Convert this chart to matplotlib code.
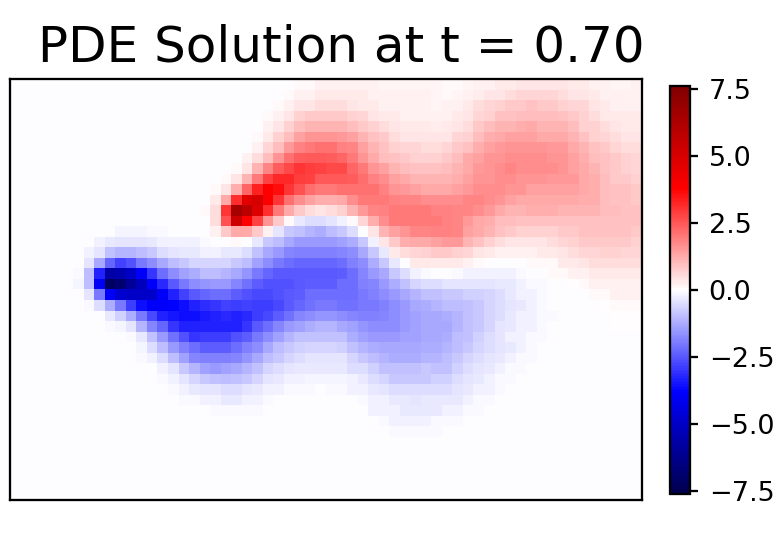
import numpy as np
import matplotlib
matplotlib.use("Agg")
import matplotlib.pyplot as plt

TITLE = "PDE Solution at t = 0.70"
CBAR_TICKS = [-7.5, -5.0, -2.5, 0.0, 2.5, 5.0, 7.5]
VLIM = 7.62
BACKGROUND = -0.03

# Field values, in tenths; left half (columns 0-29)
FIELD_LEFT = [
 [0,0,0,0,0, 0,0,0,0,0, 0,0,0,0,0, 0,0,0,0,0, 0,0,0,0,0, 0,0,1,1,2],
 [0,0,0,0,0, 0,0,0,0,0, 0,0,0,0,0, 0,0,0,0,0, 0,0,0,0,0, 0,1,2,2,3],
 [0,0,0,0,0, 0,0,0,0,0, 0,0,0,0,0, 0,0,0,0,0, 0,0,0,0,0, 1,2,4,4,5],
 [0,0,0,0,0, 0,0,0,0,0, 0,0,0,0,0, 0,0,0,0,0, 0,0,0,0,1, 2,4,7,8,8],
 [0,0,0,0,0, 0,0,0,0,0, 0,0,0,0,0, 0,0,0,0,0, 0,0,0,0,2, 4,7,10,11,11],
 [0,0,0,0,0, 0,0,0,0,0, 0,0,0,0,0, 0,0,0,0,0, 0,0,0,1,3, 7,10,14,16,16],
 [0,0,0,0,0, 0,0,0,0,0, 0,0,0,0,0, 0,0,0,0,0, 0,0,0,2,6, 10,15,19,20,21],
 [0,0,0,0,0, 0,0,0,0,0, 0,0,0,0,0, 0,0,0,0,0, 0,0,2,5,10, 16,21,24,25,25],
 [0,0,0,0,0, 0,0,0,0,0, 0,0,0,0,0, 0,0,0,0,0, 0,1,4,11,18, 24,27,30,29,28],
 [0,0,0,0,0, 0,0,0,0,0, 0,0,0,0,0, 0,0,0,0,0, 1,4,11,20,28, 32,32,29,28,25],
 [0,0,0,0,0, 0,0,0,0,0, 0,0,0,0,0, 0,0,0,0,1, 4,12,23,33,38, 36,30,26,22,20],
 [0,0,0,0,0, 0,0,0,0,0, 0,0,0,0,0, 0,0,0,0,3, 13,31,47,50,39, 30,21,17,14,12],
 [0,0,0,0,0, 0,0,0,0,0, 0,0,0,0,0, 0,0,0,1,5, 30,64,58,48,31, 20,13,8,5,4],
 [0,0,0,0,0, 0,0,0,0,0, 0,0,0,0,0, 0,0,0,0,5, 26,53,38,28,16, 8,1,-3,-5,-5],
 [0,0,0,0,0, 0,0,0,0,-0.5, -1.5,-1.5,-1.5,-1,-1, -0.5,0,0,0,2, 8,13,13,8,2, -4,-8,-9,-11,-12],
 [0,0,0,0,0, 0,0,-0.5,-2,-3, -4,-4,-4,-3,-2, -2,-2,-2,-1,-0.5, 0,1,0,-3,-8, -10,-13,-15,-15,-15],
 [0,0,0,0,0, 0,0,-2,-4,-9, -11,-11,-10,-8,-5, -4,-3,-3,-2,-2, -3,-3,-5,-9,-13, -15,-18,-19,-19,-19],
 [0,0,0,0,0, 0,-0.5,-4,-13,-23, -28,-26,-20,-17,-13, -10,-8,-6,-6,-6, -6,-8,-10,-14,-17, -20,-22,-23,-23,-23],
 [0,0,0,0,0, 0,-1,-10,-33,-57, -55,-50,-39,-30,-22, -17,-14,-12,-10,-10, -11,-13,-16,-20,-23, -25,-25,-25,-25,-25],
 [0,0,0,0,0, 0,-1.5,-10,-40,-72, -68,-60,-52,-39,-32, -25,-20,-17,-16,-15, -15,-18,-21,-24,-26, -26,-26,-25,-24,-24],
 [0,0,0,0,0, 0,-0.5,-4,-20,-39, -48,-50,-50,-49,-39, -33,-28,-25,-23,-22, -22,-24,-26,-27,-27, -26,-25,-24,-22,-22],
 [0,0,0,0,0, 0,0,-1,-5,-12, -20,-29,-36,-39,-39, -38,-36,-33,-31,-30, -28,-29,-28,-29,-29, -27,-25,-23,-21,-20],
 [0,0,0,0,0, 0,0,0,-0.5,-3, -7,-12,-20,-27,-33, -35,-36,-36,-34,-33, -32,-33,-32,-29,-27, -24,-21,-18,-17,-16],
 [0,0,0,0,0, 0,0,0,0,-1, -1.5,-4,-11,-18,-23, -30,-33,-33,-33,-33, -33,-33,-30,-25,-22, -18,-15,-14,-12,-11],
 [0,0,0,0,0, 0,0,0,0,0, -0.5,-1,-3,-9,-15, -21,-26,-30,-29,-29, -29,-26,-24,-20,-17, -14,-11,-9,-9,-9],
 [0,0,0,0,0, 0,0,0,0,0, 0,-0.5,-1.5,-5,-10, -15,-19,-22,-24,-24, -24,-22,-19,-17,-13, -10,-8,-7,-6,-6],
 [0,0,0,0,0, 0,0,0,0,0, 0,0,-1,-2,-5, -10,-14,-18,-19,-19, -19,-18,-16,-13,-10, -8,-6,-5,-4,-4],
 [0,0,0,0,0, 0,0,0,0,0, 0,0,0,-0.5,-2, -4,-8,-11,-14,-15, -14,-13,-11,-9,-6, -5,-4,-3,-3,-3],
 [0,0,0,0,0, 0,0,0,0,0, 0,0,0,0,-1, -2,-4,-6,-8,-9, -10,-9,-8,-6,-4, -3,-2,-2,-1.5,-1.5],
 [0,0,0,0,0, 0,0,0,0,0, 0,0,0,0,-0.5, -1,-2,-3,-4,-4, -5,-5,-4,-3,-2, -2,-1,-1,-1,-0.5],
 [0,0,0,0,0, 0,0,0,0,0, 0,0,0,0,0, -0.5,-1,-1,-2,-2, -3,-3,-2,-2,-1, -0.5,-0.5,-0.5,-0.5,-0.5],
 [0,0,0,0,0, 0,0,0,0,0, 0,0,0,0,0, 0,-0.5,-0.5,-0.5,-1, -1,-1,-1,-1,-0.5, -0.5,0,0,0,0],
 [0,0,0,0,0, 0,0,0,0,0, 0,0,0,0,0, 0,0,0,-0.5,-0.5, -0.5,-0.5,-0.5,-0.5,0, 0,0,0,0,0],
 [0,0,0,0,0, 0,0,0,0,0, 0,0,0,0,0, 0,0,0,0,0, 0,0,0,0,0, 0,0,0,0,0],
 [0,0,0,0,0, 0,0,0,0,0, 0,0,0,0,0, 0,0,0,0,0, 0,0,0,0,0, 0,0,0,0,0],
 [0,0,0,0,0, 0,0,0,0,0, 0,0,0,0,0, 0,0,0,0,0, 0,0,0,0,0, 0,0,0,0,0],
 [0,0,0,0,0, 0,0,0,0,0, 0,0,0,0,0, 0,0,0,0,0, 0,0,0,0,0, 0,0,0,0,0],
 [0,0,0,0,0, 0,0,0,0,0, 0,0,0,0,0, 0,0,0,0,0, 0,0,0,0,0, 0,0,0,0,0],
 [0,0,0,0,0, 0,0,0,0,0, 0,0,0,0,0, 0,0,0,0,0, 0,0,0,0,0, 0,0,0,0,0],
 [0,0,0,0,0, 0,0,0,0,0, 0,0,0,0,0, 0,0,0,0,0, 0,0,0,0,0, 0,0,0,0,0],
]

# Right half (columns 30-59)
FIELD_RIGHT = [
 [2,2,2,2,2, 1.5,1.5,1.5,1.5,1.5, 1.5,1,1,1.5,2, 2,3,3,4,4, 4,4,4,3,3, 2,2,1.5,1.5,2],
 [3,3,3,3,2, 2,2,2,2,2, 1.5,1,1.5,2,2.5, 4,4,5,6,6, 6,6,5,4,4, 3,2,2,2,2],
 [5,5,4,3,3, 2,2,2,2,2, 1.5,2,2,3,5, 6,7,8,8,9, 8,8,7,6,6, 4,3,2,2,2],
 [8,8,7,6,4, 3,3,2,2,2, 2,2,3,4,6, 7,9,9,10,10, 10,10,9,8,7, 5,3,3,3,3],
 [11,11,10,8,7, 5,4,3,3,3, 2.5,3,4,5,8, 10,11,11,12,13, 11,11,11,10,7, 7,5,4,3,3],
 [16,15,14,11,9, 8,5,4,4,4, 4,4,6,7,10, 12,13,14,14,14, 13,13,13,11,9, 7,6,5,4,4],
 [21,19,18,14,11, 9,7,6,6,5, 5,6,8,9,12, 14,15,16,16,16, 16,15,15,13,11, 9,8,6,5,5],
 [24,23,20,16,13, 10,9,8,7,7, 7,8,10,13,14, 16,16,17,17,17, 17,16,16,14,12, 10,9,8,7,6],
 [27,27,23,20,16, 14,11,10,9,9, 9,10,11,13,15, 16,17,18,17,17, 17,17,16,14,13, 11,9,8,7,6],
 [25,25,24,22,19, 17,14,13,11,11, 11,11,12,14,16, 16,17,17,16,16, 16,15,15,15,13, 12,10,8,8,7],
 [20,21,21,21,21, 19,16,15,14,13, 13,13,14,15,17, 17,17,16,16,14, 14,14,14,14,13, 12,10,9,9,8],
 [12,13,17,20,20, 20,19,18,18,17, 17,17,17,18,18, 17,16,14,13,13, 13,13,13,13,12, 12,10,9,9,8],
 [5,7,11,15,18, 19,20,20,20,20, 19,19,18,18,17, 15,13,11,11,12, 12,12,11,11,11, 11,10,10,9,9],
 [-4,-2,1,6,12, 17,20,20,20,20, 20,19,18,15,13, 12,10,10,9,9, 9,9,9,9,9, 9,9,9,9,9],
 [-10,-8,-5,0,4, 11,14,16,18,18, 19,19,18,14,13, 11,9,8,7,7, 7,7,8,8,9, 9,9,9,9,8],
 [-15,-14,-12,-8,-2, 4,8,12,13,13, 14,15,15,11,9, 7,5,4,4,4, 4,5,6,7,8, 8,8,8,8,7],
 [-19,-18,-17,-13,-8, -3,3,5,6,7, 8,8,7,6,4, 3,2,2,2,2, 3,3,4,5,6, 6,7,7,6,6],
 [-23,-22,-19,-17,-12, -8,-3,0,3,3, 3,3,3,2,1, 0,0,0,0,1, 1,1,3,3,4, 5,5,5,5,5],
 [-25,-24,-22,-18,-15, -13,-8,-5,-2,-1, -0.5,-0.5,-1,-2,-2, -2,-2,-2,-1,0, 0,1,1,2,2, 3,3,3,3,3],
 [-24,-22,-22,-19,-18, -15,-12,-9,-6,-5, -5,-4,-4,-4,-4, -4,-3,-3,-2,-1, -1,0,0,0.5,1, 2,2,2,2,2],
 [-22,-22,-22,-20,-19, -17,-15,-13,-11,-9, -9,-8,-8,-7,-7, -6,-5,-3,-2,-2, -1,-0.5,0,0,0, 1,1,2,2,2],
 [-20,-21,-21,-20,-20, -19,-17,-15,-13,-12, -11,-10,-10,-9,-8, -6,-5,-4,-3,-2, -1,-0.5,-0.5,0,0, 0,0.5,1,1,1],
 [-16,-17,-18,-19,-19, -18,-17,-15,-14,-13, -13,-12,-11,-9,-8, -6,-5,-3,-2,-2, -1,-1,-0.5,0,0, 0,0,0.5,0.5,0.5],
 [-11,-13,-14,-16,-17, -17,-17,-15,-14,-13, -13,-13,-11,-9,-8, -6,-4,-3,-2,-2, -1,-0.5,-0.5,0,0, 0,0,0.5,0.5,0.5],
 [-9,-9,-12,-14,-15, -15,-15,-14,-14,-13, -13,-12,-10,-9,-7, -5,-4,-2,-2,-1, -1,-0.5,-0.5,0,0, 0,0,0,0,0],
 [-6,-7,-9,-11,-12, -13,-13,-13,-13,-12, -12,-11,-10,-8,-6, -5,-4,-3,-2,-1, -0.5,-0.5,0,0,0, 0,0,0,0,0],
 [-4,-4,-6,-8,-10, -11,-12,-12,-12,-11, -11,-10,-8,-6,-5, -4,-3,-2,-1,-1, -0.5,0,0,0,0, 0,0,0,0,0],
 [-3,-3,-5,-5,-7, -9,-9,-9,-9,-8, -9,-9,-7,-5,-4, -3,-2,-1,-1,-0.5, 0,0,0,0,0, 0,0,0,0,0],
 [-1.5,-1.5,-2,-3,-5, -6,-8,-8,-8,-8, -7,-7,-5,-4,-3, -2,-1,-1,-0.5,0, 0,0,0,0,0, 0,0,0,0,0],
 [-1,-1,-2,-2,-3, -4,-5,-5,-5,-5, -5,-5,-4,-3,-2, -2,-1,-0.5,0,0, 0,0,0,0,0, 0,0,0,0,0],
 [-0.5,-0.5,-0.5,-1,-2, -2,-3,-3,-4,-3, -3,-3,-3,-2,-1, -1,-0.5,0,0,0, 0,0,0,0,0, 0,0,0,0,0],
 [0,0,-0.5,-0.5,-2, -2,-2,-3,-3,-3, -3,-2,-2,-1,-1, -0.5,0,0,0,0, 0,0,0,0,0, 0,0,0,0,0],
 [0,0,0,-0.5,-0.5, -1,-2,-2,-2,-2, -1,-1,-1,-0.5,-0.5, 0,0,0,0,0, 0,0,0,0,0, 0,0,0,0,0],
 [0,0,0,0,-0.5, -0.5,-1,-1,-1,-1, -1,-0.5,-0.5,-0.5,0, 0,0,0,0,0, 0,0,0,0,0, 0,0,0,0,0],
 [0,0,0,0,0, -0.5,-0.5,-0.5,-0.5,-0.5, -0.5,-0.5,-0.5,0,0, 0,0,0,0,0, 0,0,0,0,0, 0,0,0,0,0],
 [0,0,0,0,0, 0,0,-0.5,-0.5,-0.5, -0.5,0,0,0,0, 0,0,0,0,0, 0,0,0,0,0, 0,0,0,0,0],
 [0,0,0,0,0, 0,0,0,0,0, 0,0,0,0,0, 0,0,0,0,0, 0,0,0,0,0, 0,0,0,0,0],
 [0,0,0,0,0, 0,0,0,0,0, 0,0,0,0,0, 0,0,0,0,0, 0,0,0,0,0, 0,0,0,0,0],
 [0,0,0,0,0, 0,0,0,0,0, 0,0,0,0,0, 0,0,0,0,0, 0,0,0,0,0, 0,0,0,0,0],
 [0,0,0,0,0, 0,0,0,0,0, 0,0,0,0,0, 0,0,0,0,0, 0,0,0,0,0, 0,0,0,0,0],
]

field = np.hstack([np.array(FIELD_LEFT, float), np.array(FIELD_RIGHT, float)]) / 10.0
field[field == 0] = BACKGROUND

W, H = 780, 535
fig = plt.figure(figsize=(W / 150, H / 150), dpi=150)

def box(x0, y0, x1, y1):
    return [x0 / W, 1 - y1 / H, (x1 - x0) / W, (y1 - y0) / H]

ax = fig.add_axes(box(10, 79, 642, 500))
im = ax.imshow(field, cmap="seismic", vmin=-VLIM, vmax=VLIM, aspect="auto",
               interpolation="nearest")
ax.set_xticks([])
ax.set_yticks([])
for spine in ax.spines.values():
    spine.set_linewidth(1.1)
ax.set_title(TITLE, fontsize=24, x=0.525, pad=8.5)

cax = fig.add_axes(box(670, 86, 690, 494))
cb = fig.colorbar(im, cax=cax)
cb.set_ticks(CBAR_TICKS)
cb.ax.tick_params(labelsize=13, length=4, width=1.1, pad=5)
cb.outline.set_linewidth(1.1)

fig.savefig("out.png", dpi=150)
